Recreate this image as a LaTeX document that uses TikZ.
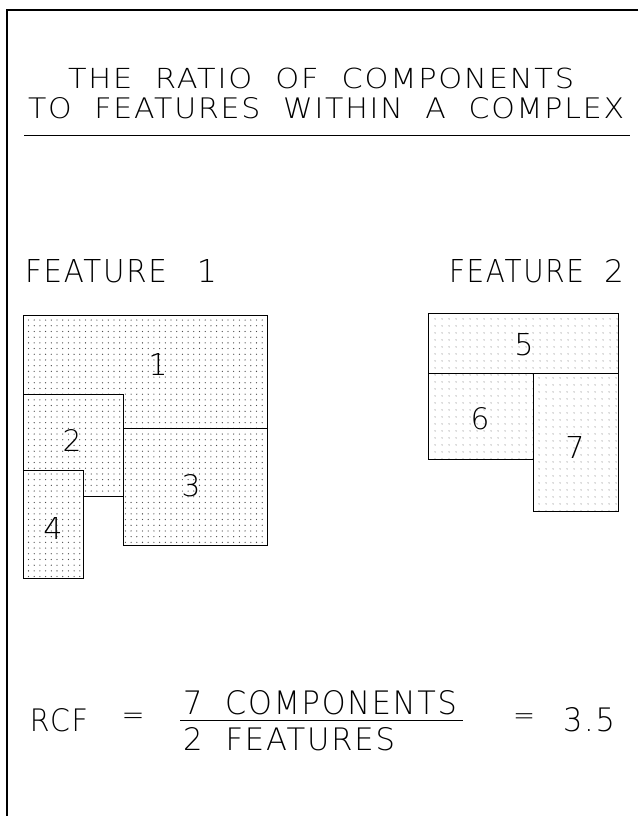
\documentclass[tikz,border=0pt]{standalone}
\usepackage{fontspec}
\usepackage{graphicx}
\usetikzlibrary{patterns.meta}
\IfFontExistsTF{FiraSans-ExtraLight.otf}
  {\newfontfamily\cad{FiraSans-ExtraLight.otf}[LetterSpace=6,WordSpace=2]}
  {\IfFontExistsTF{DejaVuSans-ExtraLight.ttf}
    {\newfontfamily\cad{DejaVuSans-ExtraLight.ttf}[LetterSpace=6,WordSpace=2]}
    {\newfontfamily\cad{lmsans17-regular.otf}[LetterSpace=8,WordSpace=2]}}
\newcommand\fitbox[3]{\resizebox{#1pt}{#2pt}{\cad #3}}
\newcommand\digitbox[1]{\resizebox{!}{22pt}{\cad #1}}
\tikzset{
  lbl/.style={inner sep=0pt, outer sep=0pt, anchor=north west},
  num/.style={inner sep=0pt, outer sep=0pt, anchor=center},
  compA/.style={draw=black, line width=0.8pt, pattern={Dots[distance=5.7pt,radius=0.65pt]}, pattern color=black!70},
  compB/.style={draw=black, line width=0.8pt, pattern={Dots[distance=6.5pt,radius=0.6pt]}, pattern color=black!55},
  frameline/.style={line width=1.1pt, black},
  ruleline/.style={line width=0.9pt, black},
}
\begin{document}
\begin{tikzpicture}[x=1pt,y=-1pt]
\useasboundingbox (0,0) rectangle (638,816);
\fill[white] (0,0) rectangle (638,816);
% frame
\coordinate (fTL) at (7,10);
\coordinate (fTR) at (638,10);
\coordinate (fBL) at (7,816);
\draw[frameline] (fTR) -- (fTL) -- (fBL);
% title
\node[lbl] (t1) at (68,68) {\fitbox{506}{20.5}{THE RATIO OF COMPONENTS}};
\node[lbl] (t2) at (28,97) {\fitbox{596}{21}{TO FEATURES WITHIN A COMPLEX}};
\coordinate (uL) at (24,135);
\coordinate (uR) at (630,135);
\draw[ruleline] (uL) -- (uR);
% feature headings
\node[lbl] (fa) at (25,259) {\fitbox{142}{23}{FEATURE}};
\node[num] (fan) at (207,270.5) {\resizebox{!}{23pt}{\cad 1}};
\node[lbl] (fb) at (449,259) {\fitbox{135}{23}{FEATURE}};
\node[num] (fbn) at (614,270.5) {\resizebox{!}{23pt}{\cad 2}};
% feature 1 components
\path[compA] (23,315) -- (267,315) -- (267,428) -- (123,428) -- (123,394) -- (23,394) -- cycle;
\path[compA] (23,394) -- (123,394) -- (123,496) -- (83,496) -- (83,470) -- (23,470) -- cycle;
\path[compA] (123,428) rectangle (267,545);
\path[compA] (23,470) rectangle (83,578);
\node[num] (c1) at (158,364) {\digitbox{1}};
\node[num] (c2) at (72,440) {\digitbox{2}};
\node[num] (c3) at (191,486) {\digitbox{3}};
\node[num] (c4) at (53,528) {\digitbox{4}};
% feature 2 components
\path[compB] (428,313) rectangle (618,373);
\path[compB] (428,373) rectangle (533,459);
\path[compB] (533,373) rectangle (618,511);
\node[num] (c5) at (524,345) {\digitbox{5}};
\node[num] (c6) at (480,419) {\digitbox{6}};
\node[num] (c7) at (575,447) {\digitbox{7}};
% formula
\node[lbl] (rcf) at (30,708) {\fitbox{58}{23}{RCF}};
\node[num] (eq1) at (133,719) {\resizebox{23pt}{!}{\cad =}};
\node[lbl] (numer) at (183,690) {\fitbox{274}{24}{7 COMPONENTS}};
\coordinate (fracL) at (180,720);
\coordinate (fracR) at (463,720);
\draw[ruleline] (fracL) -- (fracR);
\node[lbl] (denom) at (183,727) {\fitbox{212}{23}{2 FEATURES}};
\node[num] (eq2) at (524,719) {\resizebox{22pt}{!}{\cad =}};
\node[lbl] (res) at (563,707) {\fitbox{52}{24}{3.5}};
\end{tikzpicture}
\end{document}
